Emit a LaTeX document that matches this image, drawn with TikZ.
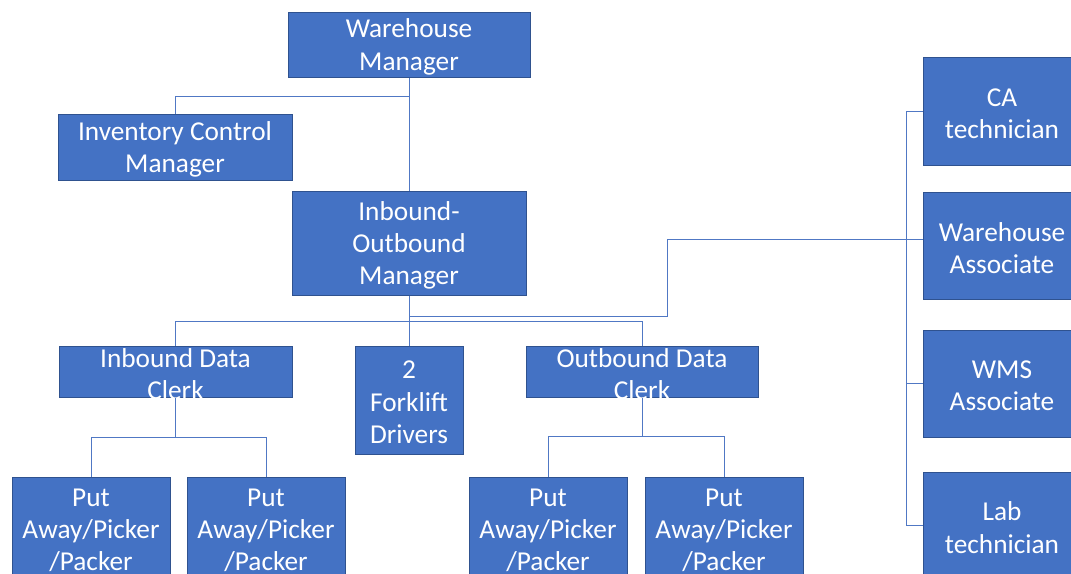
\documentclass[tikz,border=0pt]{standalone}
\usepackage{fontspec}
\setmainfont{Carlito}
\definecolor{boxfill}{RGB}{68,114,196}
\definecolor{boxedge}{RGB}{47,82,143}
\definecolor{wire}{RGB}{80,120,196}
\begin{document}
\begin{tikzpicture}[x=1pt,y=-1pt,
  box/.style={draw=boxedge,line width=1pt,fill=boxfill,inner sep=0pt,anchor=center},
  txt/.style={text=white,align=center,inner sep=0pt,yshift=-2.5pt,font=\fontsize{27.3}{32.3}\selectfont},
  wirestyle/.style={draw=wire,line width=1pt}]
\useasboundingbox (0,0) rectangle (1071,573);
\fill[white] (0,0) rectangle (1071,573);
% boxes
\node[box,minimum width=242,minimum height=65] (wm) at (409,44.5) {};
\node[txt] (wmt) at (wm) {Warehouse\\Manager};
\node[box,minimum width=234,minimum height=66] (icm) at (175,147) {};
\node[txt] (icmt) at (icm) {Inventory Control\\Manager};
\node[box,minimum width=234,minimum height=104] (iom) at (409,243) {};
\node[txt] (iomt) at (iom) {Inbound-\\Outbound\\Manager};
\node[box,minimum width=233,minimum height=51] (idc) at (175.5,371.5) {};
\node[txt] (idct) at (idc) {Inbound Data\\Clerk};
\node[box,minimum width=108,minimum height=108] (fk) at (409,400) {};
\node[txt] (fkt) at (fk) {2\\Forklift\\Drivers};
\node[box,minimum width=232,minimum height=51] (odc) at (642,371.5) {};
\node[txt] (odct) at (odc) {Outbound Data\\Clerk};
\node[box,minimum width=158,minimum height=102] (pa1) at (91,528) {};
\node[txt] (pa1t) at (pa1) {Put\\Away/Picker\\/Packer};
\node[box,minimum width=158,minimum height=102] (pa2) at (266,528) {};
\node[txt] (pa2t) at (pa2) {Put\\Away/Picker\\/Packer};
\node[box,minimum width=158,minimum height=102] (pa3) at (548,528) {};
\node[txt] (pa3t) at (pa3) {Put\\Away/Picker\\/Packer};
\node[box,minimum width=158,minimum height=102] (pa4) at (724,528) {};
\node[txt] (pa4t) at (pa4) {Put\\Away/Picker\\/Packer};
\node[box,minimum width=158,minimum height=108] (ca) at (1002,111) {};
\node[txt] (cat) at (ca) {CA\\technician};
\node[box,minimum width=158,minimum height=107] (wa) at (1002,245.5) {};
\node[txt] (wat) at (wa) {Warehouse\\Associate};
\node[box,minimum width=158,minimum height=107] (wms) at (1002,383.5) {};
\node[txt] (wmst) at (wms) {WMS\\Associate};
\node[box,minimum width=158,minimum height=106] (lab) at (1002,525) {};
\node[txt] (labt) at (lab) {Lab\\technician};
% connectors
\coordinate (waj) at ([yshift=6pt]wa.west);
\draw[wirestyle] (wm.south) -- (iom.north);
\draw[wirestyle] (wm.south) ++(0,19) -| (icm.north);
\draw[wirestyle] (iom.south) -- (fk.north);
\draw[wirestyle] (iom.south) ++(0,26) -| (idc.north);
\draw[wirestyle] (iom.south) ++(0,26) -| (odc.north);
\draw[wirestyle] (iom.south) ++(0,21) -- ++(258,0) |- (waj);
\draw[wirestyle] (ca.west) -- ++(-16,0) |- (lab.west);
\draw[wirestyle] (wms.west) -- ++(-16,0);
\draw[wirestyle] (idc.south) -- ++(0,40) -| (pa1.north);
\draw[wirestyle] (idc.south) ++(0,40) -| (pa2.north);
\draw[wirestyle] (odc.south) -- ++(0,39) -| (pa3.north);
\draw[wirestyle] (odc.south) ++(0,39) -| (pa4.north);
\end{tikzpicture}
\end{document}
